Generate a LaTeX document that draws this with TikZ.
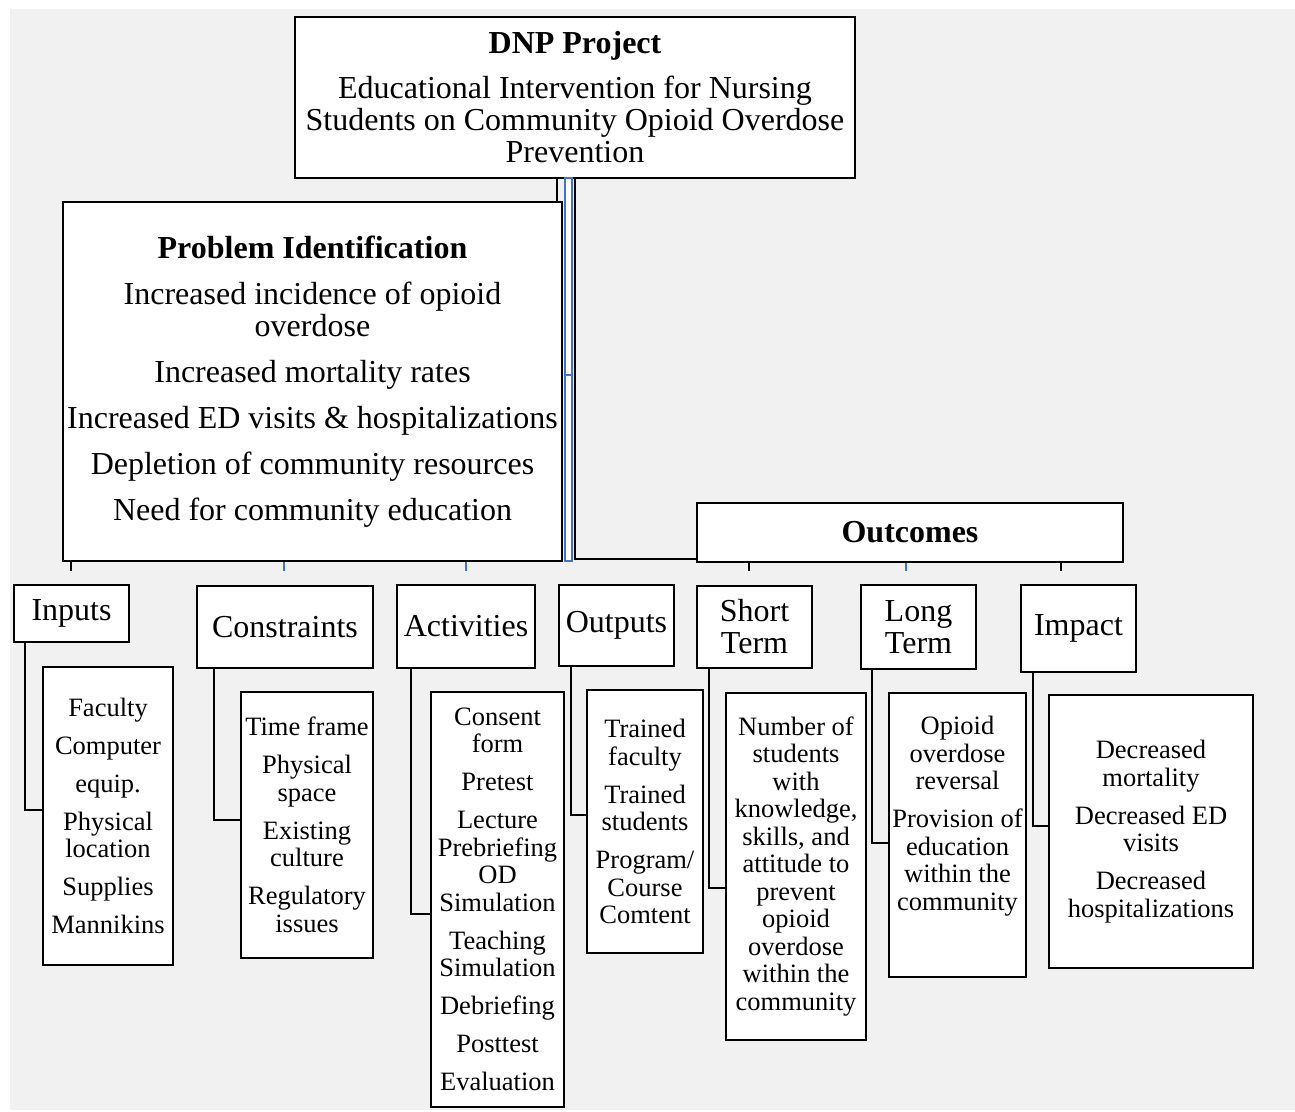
\documentclass[tikz,border=0pt]{standalone}
\usepackage{fontspec}
\setmainfont{Liberation Serif}
\definecolor{bgc}{RGB}{241,241,241}
\definecolor{wblue}{RGB}{68,114,196}
\tikzset{
  box/.style={draw=black, line width=2.5pt, fill=white, align=center, inner sep=2pt,
    font=\fontsize{32}{32}\selectfont},
  detail/.style={box, font=\fontsize{26.5}{27.5}\selectfont},
  conn/.style={draw=black, line width=2.5pt},
  bconn/.style={draw=wblue, line width=2pt},
  bbar/.style={draw=wblue, line width=1.6pt, fill=white, inner sep=0pt, minimum width=7pt}
}
\begin{document}
\begin{tikzpicture}[x=1pt,y=-1pt]
\useasboundingbox (0,0) rectangle (1295,1111);
\fill[white] (0,0) rectangle (1295,1111);
\fill[bgc] (10,9) rectangle (1295,1110);

% top boxes
\node[box, minimum width=560pt, minimum height=161pt] (dnp) at (575,97.5)
 {\textbf{DNP Project}\\[13pt]Educational Intervention for Nursing\\Students on Community Opioid Overdose\\Prevention};
\node[box, minimum width=499pt, minimum height=359pt] (prob) at (312.5,381.5)
 {\textbf{Problem Identification}\\[14pt]Increased incidence of opioid\\overdose\\[14pt]Increased mortality rates\\[14pt]Increased ED visits \& hospitalizations\\[14pt]Depletion of community resources\\[14pt]Need for community education};
\node[box, minimum width=426pt, minimum height=59pt] (out) at (910,532.5) {\textbf{Outcomes}};

% narrow blue bars
\node[bbar, minimum height=197pt] (bar1) at (568.5,276.5) {};
\node[bbar, minimum height=186pt] (bar2) at (568.5,468) {};

% connectors from DNP
\coordinate (k1) at (557,0);
\draw[conn] (k1 |- dnp.south) -- (k1 |- prob.north);
\coordinate (k2) at (575,559);
\draw[conn] (k2 |- dnp.south) -- (k2) -- (k2 -| out.west);

% category boxes
\node[box, minimum width=115pt, minimum height=57pt] (inp) at (71.5,613.5) {Inputs};
\node[box, minimum width=176pt, minimum height=82pt] (con) at (285,627) {Constraints};
\node[box, minimum width=138pt, minimum height=83pt] (act) at (466,626.5) {Activities};
\node[box, minimum width=115pt, minimum height=81pt] (outp) at (616.5,625.5) {Outputs};
\node[box, minimum width=115pt, minimum height=82pt] (st) at (754.5,627) {Short\\Term};
\node[box, minimum width=115pt, minimum height=84pt] (lt) at (918.5,627) {Long\\Term};
\node[box, minimum width=115pt, minimum height=87pt] (imp) at (1078.5,628.5) {Impact};

% ticks
\coordinate (t1) at (71,571);
\coordinate (t2) at (284,571);
\coordinate (t3) at (466,571);
\coordinate (t4) at (749,571);
\coordinate (t5) at (906,571);
\coordinate (t6) at (1061,571);
\draw[conn] (t1 |- prob.south) -- (t1);
\draw[bconn] (t2 |- prob.south) -- (t2);
\draw[bconn] (t3 |- prob.south) -- (t3);
\draw[conn] (t4 |- out.south) -- (t4);
\draw[bconn] (t5 |- out.south) -- (t5);
\draw[conn] (t6 |- out.south) -- (t6);

% detail boxes
\node[detail, minimum width=130pt, minimum height=298pt] (inpd) at (108,816)
 {Faculty\\[10.5pt]Computer\\[10.5pt]equip.\\[10.5pt]Physical\\location\\[10.5pt]Supplies\\[10.5pt]Mannikins};
\node[detail, minimum width=132pt, minimum height=266pt] (cond) at (307,825)
 {Time frame\\[10.5pt]Physical\\space\\[10.5pt]Existing\\culture\\[10.5pt]Regulatory\\issues};
\node[detail, minimum width=133pt, minimum height=415pt] (actd) at (497.5,899.5)
 {Consent\\form\\[10.5pt]Pretest\\[10.5pt]Lecture\\Prebriefing\\OD\\Simulation\\[10.5pt]Teaching\\Simulation\\[10.5pt]Debriefing\\[10.5pt]Posttest\\[10.5pt]Evaluation};
\node[detail, minimum width=116pt, minimum height=263pt] (outd) at (645,821.5)
 {Trained\\faculty\\[10.5pt]Trained\\students\\[10.5pt]Program/\\Course\\Comtent};
\node[detail, minimum width=140pt, minimum height=347pt] (std) at (796,866.5)
 {Number of\\students\\with\\knowledge,\\skills, and\\attitude to\\prevent\\opioid\\overdose\\within the\\community};
\node[detail, minimum width=137pt, minimum height=284pt] (ltd) at (957.5,835) {};
\node[font=\fontsize{26.5}{27.5}\selectfont, align=center, inner sep=0pt] (ltt) at (957.5,816)
 {Opioid\\overdose\\reversal\\[10.5pt]Provision of\\education\\within the\\community};
\node[detail, minimum width=204pt, minimum height=273pt] (impd) at (1151,831.5)
 {Decreased\\mortality\\[10.5pt]Decreased ED\\visits\\[10.5pt]Decreased\\hospitalizations};

% elbow connectors
\coordinate (e1) at (25,810);
\coordinate (e2) at (214,820);
\coordinate (e3) at (411,914);
\coordinate (e4) at (571,815);
\coordinate (e5) at (709,888);
\coordinate (e6) at (872,843);
\coordinate (e7) at (1033,826);
\draw[conn] (e1 |- inp.south) -- (e1) -- (e1 -| inpd.west);
\draw[conn] (e2 |- con.south) -- (e2) -- (e2 -| cond.west);
\draw[conn] (e3 |- act.south) -- (e3) -- (e3 -| actd.west);
\draw[conn] (e4 |- outp.south) -- (e4) -- (e4 -| outd.west);
\draw[conn] (e5 |- st.south) -- (e5) -- (e5 -| std.west);
\draw[conn] (e6 |- lt.south) -- (e6) -- (e6 -| ltd.west);
\draw[conn] (e7 |- imp.south) -- (e7) -- (e7 -| impd.west);
\end{tikzpicture}
\end{document}
